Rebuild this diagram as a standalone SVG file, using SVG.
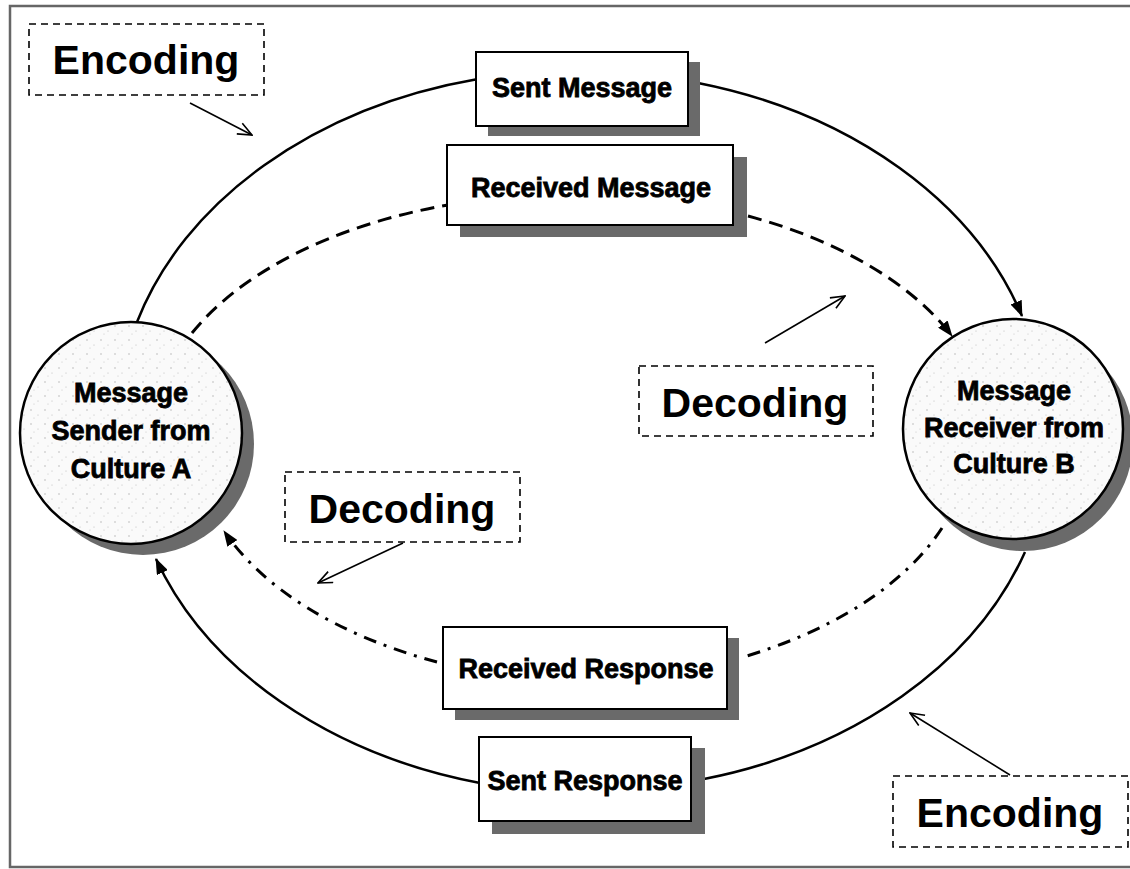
<svg xmlns="http://www.w3.org/2000/svg" width="1130" height="869" viewBox="0 0 1130 869">
<style>
.frame{fill:none;stroke:#666;stroke-width:2.5}
.box{fill:#fff;stroke:#000;stroke-width:2}
.shadow{fill:#6a6a6a}
.btxt{font-family:"Liberation Sans",Arial,sans-serif;font-weight:bold;font-size:27px;fill:#000;stroke:#000;stroke-width:0.8;text-anchor:middle}
.circ{fill:url(#stip);stroke:#000;stroke-width:2.5}
.solid{fill:none;stroke:#000;stroke-width:2.5}
.dash{fill:none;stroke:#000;stroke-width:3;stroke-dasharray:14 8}
.dashdot{fill:none;stroke:#000;stroke-width:3;stroke-dasharray:13 8 3 8}
.note{fill:none;stroke:#000;stroke-width:1.6;stroke-dasharray:7 5}
.ntxt{font-family:"Liberation Sans",Arial,sans-serif;font-weight:bold;font-size:41px;fill:#000;text-anchor:middle}
.ptr{fill:none;stroke:#000;stroke-width:1.6}
</style>
<defs>
<pattern id="stip" width="14" height="14" patternUnits="userSpaceOnUse">
<rect width="14" height="14" fill="#fafafa"/>
<circle cx="3" cy="4" r="0.7" fill="#aaa"/>
<circle cx="10" cy="9" r="0.6" fill="#bbb"/>
<circle cx="6" cy="12" r="0.5" fill="#bbb"/>
</pattern>
<marker id="ah" viewBox="0 0 16 12" refX="15" refY="6" markerWidth="16" markerHeight="12" markerUnits="userSpaceOnUse" orient="auto">
<path d="M0,0 L16,6 L0,12 Z" fill="#000"/>
</marker>
<marker id="open" viewBox="0 0 16 14" refX="15" refY="7" markerWidth="16" markerHeight="14" markerUnits="userSpaceOnUse" orient="auto">
<path d="M1,1 L15,7 L1,13" fill="none" stroke="#000" stroke-width="1.6"/>
</marker>
</defs>
<rect width="1130" height="869" fill="#fff"/>
<rect class="frame" x="10" y="6" width="1135" height="861"/>

<g id="connectors">
<path class="solid" d="M137,322 A462 352 0 0 1 478,79"/>
<path class="solid" d="M698,83 A462 352 0 0 1 1022,316" marker-end="url(#ah)"/>
<path class="solid" d="M1025,552 A462 352 0 0 1 704,779"/>
<path class="solid" d="M480,783 A462 352 0 0 1 156,559" marker-end="url(#ah)"/>
<path class="dash" d="M192,333 A415 240 0 0 1 448,205"/>
<path class="dash" d="M748,216 A415 240 0 0 1 952,336" marker-end="url(#ah)"/>
<path class="dashdot" d="M942,528 A415 240 0 0 1 740,658"/>
<path class="dashdot" d="M437,662 A415 240 0 0 1 224,531" marker-end="url(#ah)"/>
<path class="ptr" d="M190,103 L252,135" marker-end="url(#open)"/>
<path class="ptr" d="M765,343 L845,296" marker-end="url(#open)"/>
<path class="ptr" d="M403,543 L318,583" marker-end="url(#open)"/>
<path class="ptr" d="M1010,775 L910,713" marker-end="url(#open)"/>
</g>

<g id="sender">
<circle class="shadow" cx="143" cy="444" r="111"/>
<circle class="circ" cx="131" cy="433" r="111"/>
<text class="btxt" x="131" y="402">Message</text>
<text class="btxt" x="131" y="440">Sender from</text>
<text class="btxt" x="131" y="478">Culture A</text>
</g>

<g id="receiver">
<circle class="shadow" cx="1023" cy="441" r="110"/>
<circle class="circ" cx="1013" cy="429" r="110"/>
<text class="btxt" x="1014" y="400">Message</text>
<text class="btxt" x="1014" y="437">Receiver from</text>
<text class="btxt" x="1014" y="473">Culture B</text>
</g>

<g id="sent-message">
<rect class="shadow" x="488" y="62" width="212" height="74"/>
<rect class="box" x="476" y="52" width="212" height="74"/>
<text class="btxt" x="582" y="97">Sent Message</text>
</g>

<g id="received-message">
<rect class="shadow" x="460" y="157" width="287" height="80"/>
<rect class="box" x="447" y="145" width="286" height="80"/>
<text class="btxt" x="591" y="197">Received Message</text>
</g>

<g id="received-response">
<rect class="shadow" x="455" y="638" width="284" height="82"/>
<rect class="box" x="443" y="627" width="284" height="82"/>
<text class="btxt" x="586" y="678">Received Response</text>
</g>

<g id="sent-response">
<rect class="shadow" x="492" y="748" width="213" height="86"/>
<rect class="box" x="479" y="737" width="212" height="84"/>
<text class="btxt" x="585" y="790">Sent Response</text>
</g>

<g id="encoding-top">
<rect class="note" x="29" y="24" width="235" height="71"/>
<text class="ntxt" x="146" y="74">Encoding</text>
</g>

<g id="decoding-right">
<rect class="note" x="639" y="366" width="234" height="70"/>
<text class="ntxt" x="755" y="417">Decoding</text>
</g>

<g id="decoding-left">
<rect class="note" x="285" y="472" width="235" height="70"/>
<text class="ntxt" x="402" y="523">Decoding</text>
</g>

<g id="encoding-bottom">
<rect class="note" x="893" y="776" width="235" height="71"/>
<text class="ntxt" x="1010" y="827">Encoding</text>
</g>
</svg>
